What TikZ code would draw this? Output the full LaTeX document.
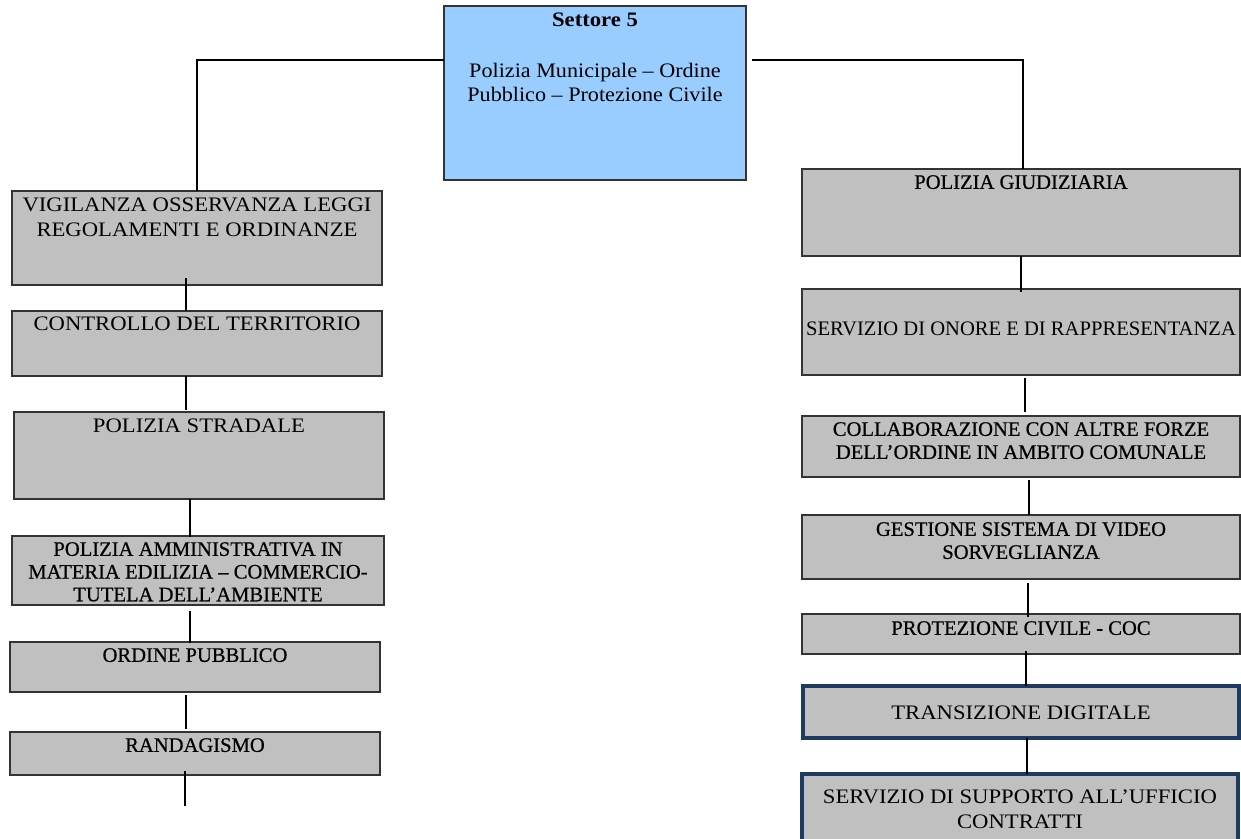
\documentclass[tikz,border=0pt]{standalone}
\usepackage{fontspec}
\setmainfont{Liberation Serif}
\newfontfamily\widefont[FakeStretch=1.1]{Liberation Serif}
\newfontfamily\midfont[FakeStretch=1.075]{Liberation Serif}
\newfontfamily\darkfont[FakeBold=0.6]{Liberation Serif}
\definecolor{boxgray}{HTML}{C0C0C0}
\definecolor{boxblue}{HTML}{99CCFF}
\definecolor{navy}{HTML}{1F3A60}
\definecolor{edge}{HTML}{333333}
\begin{document}
\begin{tikzpicture}[x=1pt,y=-1pt,
  box/.style={draw=edge, line width=1.4pt, fill=boxgray, anchor=north west, inner sep=0pt, outer sep=0pt},
  topbox/.style={box, fill=boxblue},
  navybox/.style={box, draw=navy, line width=4pt},
  txt/.style={font=\widefont\fontsize{20.6}{24.8}\selectfont, align=center, inner sep=0pt, anchor=north},
  txtn/.style={txt, font=\fontsize{20.6}{23}\selectfont},
  txtd/.style={txt, font=\darkfont\fontsize{20.6}{23}\selectfont},
  conn/.style={draw=black, line width=1.2pt}]
\useasboundingbox (0,0) rectangle (1241,838);
% boxes
\node[topbox, minimum width=302pt, minimum height=174pt] (tb) at (444,6) {};
\node[box, minimum width=370pt, minimum height=94pt] (l1) at (12,191) {};
\node[box, minimum width=370pt, minimum height=65pt] (l2) at (12,311) {};
\node[box, minimum width=370pt, minimum height=87pt] (l3) at (14,412) {};
\node[box, minimum width=372pt, minimum height=69pt] (l4) at (12,536) {};
\node[box, minimum width=370pt, minimum height=50pt] (l5) at (10,642) {};
\node[box, minimum width=370pt, minimum height=43pt] (l6) at (10,732) {};
\node[box, minimum width=438pt, minimum height=87pt] (r1) at (802,169) {};
\node[box, minimum width=438pt, minimum height=86pt] (r2) at (802,289) {};
\node[box, minimum width=438pt, minimum height=61pt] (r3) at (802,416) {};
\node[box, minimum width=438pt, minimum height=64pt] (r4) at (802,515) {};
\node[box, minimum width=438pt, minimum height=40pt] (r5) at (802,614) {};
\node[navybox, minimum width=436pt, minimum height=52pt] (r6) at (803,686) {};
\node[navybox, minimum width=436pt, minimum height=80pt] (r7) at (802,774) {};
% connectors
\coordinate (lend) at (185,806);
\draw[conn] ([yshift=-54pt]tb.north west) -| (l1.north);
\draw[conn] ([xshift=6pt,yshift=-54pt]tb.north east) -| ([xshift=2pt]r1.north);
\draw[conn] ([xshift=-11pt,yshift=7pt]l1.south) -- ([xshift=-11pt]l2.north);
\draw[conn] ([xshift=-11pt]l2.south) -- ([xshift=-13pt,yshift=2pt]l3.north);
\draw[conn] ([xshift=-9pt]l3.south) -- ([xshift=-8pt,yshift=-1pt]l4.north);
\draw[conn] ([xshift=-8pt,yshift=-6pt]l4.south) -- ([xshift=-5pt,yshift=-1pt]l5.north);
\draw[conn] ([xshift=-9pt,yshift=-3pt]l5.south) -- ([xshift=-9pt,yshift=3pt]l6.north);
\draw[conn] ([xshift=-10pt,yshift=4pt]l6.south) -- (lend);
\draw[conn] (r1.south) -- ([yshift=-3pt]r2.north);
\draw[conn] ([xshift=4pt,yshift=-3pt]r2.south) -- ([xshift=4pt,yshift=4pt]r3.north);
\draw[conn] ([xshift=8pt,yshift=-3pt]r3.south) -- ([xshift=8pt]r4.north);
\draw[conn] ([xshift=7pt,yshift=-4pt]r4.south) -- ([xshift=7pt,yshift=-3pt]r5.north);
\draw[conn] ([xshift=5pt,yshift=3pt]r5.south) -- ([xshift=5pt]r6.north);
\draw[conn] ([xshift=6pt]r6.south) -- ([xshift=7pt]r7.north);
% texts
\node[txt, font=\widefont\fontsize{20.6}{24}\selectfont\bfseries] (tbh) at ([yshift=-7pt]tb.north) {Settore 5};
\node[txt, font=\midfont\fontsize{20.6}{24}\selectfont] (tbt) at ([yshift=-57pt]tb.north) {Polizia Municipale – Ordine\\Pubblico – Protezione Civile};
\node[txt] (tl1) at ([yshift=-7pt]l1.north) {VIGILANZA OSSERVANZA LEGGI\\REGOLAMENTI E ORDINANZE};
\node[txt] (tl2) at ([yshift=-6pt]l2.north) {CONTROLLO DEL TERRITORIO};
\node[txt] (tl3) at ([yshift=-7pt]l3.north) {POLIZIA STRADALE};
\node[txtd, font=\darkfont\fontsize{20.6}{22.7}\selectfont] (tl4) at ([yshift=-6pt]l4.north) {POLIZIA AMMINISTRATIVA IN\\MATERIA EDILIZIA – COMMERCIO-\\TUTELA DELL’AMBIENTE};
\node[txtd] (tl5) at ([yshift=-6pt]l5.north) {ORDINE PUBBLICO};
\node[txtd] (tl6) at ([yshift=-6pt]l6.north) {RANDAGISMO};
\node[txtd] (tr1) at ([yshift=-6pt]r1.north) {POLIZIA GIUDIZIARIA};
\node[txtn] (tr2) at ([yshift=-33pt]r2.north) {SERVIZIO DI ONORE E DI RAPPRESENTANZA};
\node[txtd] (tr3) at ([yshift=-6pt]r3.north) {COLLABORAZIONE CON ALTRE FORZE\\DELL’ORDINE IN AMBITO COMUNALE};
\node[txtd] (tr4) at ([yshift=-7pt]r4.north) {GESTIONE SISTEMA DI VIDEO\\SORVEGLIANZA};
\node[txtd] (tr5) at ([yshift=-7pt]r5.north) {PROTEZIONE CIVILE - COC};
\node[txt] (tr6) at ([yshift=-20pt]r6.north) {TRANSIZIONE DIGITALE};
\node[txt] (tr7) at ([yshift=-16pt]r7.north) {SERVIZIO DI SUPPORTO ALL’UFFICIO\\CONTRATTI};
\end{tikzpicture}
\end{document}
